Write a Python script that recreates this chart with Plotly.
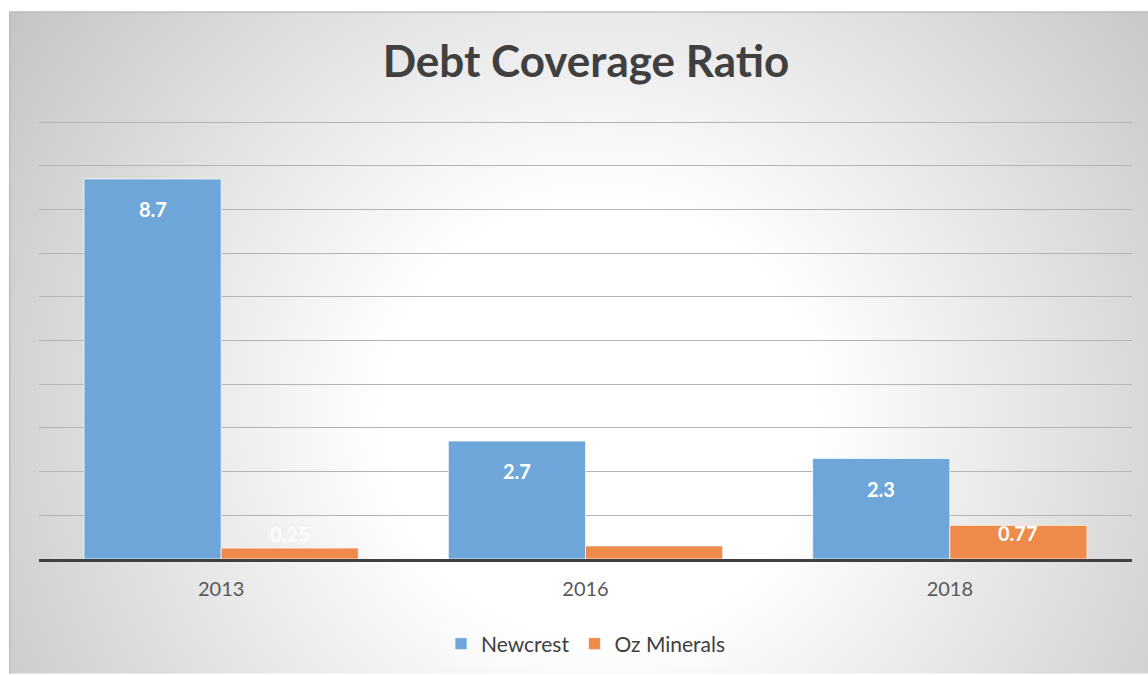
import base64
import plotly.graph_objects as go

categories = ["2013", "2016", "2018"]
newcrest = [8.7, 2.7, 2.3]
oz_minerals = [0.25, 0.3, 0.77]
newcrest_labels = ["8.7", "2.7", "2.3"]
oz_labels = ["0.25", "", "0.77"]

W, H = 1148, 675
ML, MR, MT, MB = 39, 16, 120, 115
YMAX = 10.05
BARGAP = 0.247
FONT = "Lato"

svg = '''<svg xmlns="http://www.w3.org/2000/svg" width="1139" height="664" viewBox="0 0 1139 664">
<defs><radialGradient id="g" gradientUnits="userSpaceOnUse" cx="591" cy="409" r="720">
<stop offset="0" stop-color="#ffffff"/><stop offset="0.3" stop-color="#ffffff"/>
<stop offset="1" stop-color="#c4c4c4"/></radialGradient></defs>
<rect x="0" y="0" width="1139" height="664" fill="url(#g)"/>
<path d="M0.75,664 V0.75 H1139" fill="none" stroke="#bcbcbc" stroke-width="1.5"/>
</svg>'''
src = "data:image/svg+xml;base64," + base64.b64encode(svg.encode()).decode()

pw, ph = W - ML - MR, H - MT - MB

fig = go.Figure()
fig.add_trace(go.Bar(name="Newcrest", x=categories, y=newcrest,
                     marker=dict(color="#6fa6d9", line=dict(color="rgba(255,255,255,0.7)", width=1))))
fig.add_trace(go.Bar(name="Oz Minerals", x=categories, y=oz_minerals,
                     marker=dict(color="#ee8b4b", line=dict(color="rgba(255,255,255,0.7)", width=1))))

off = (1 - BARGAP) / 4
unit_px = ph / YMAX
for series, labels, sign in ((newcrest, newcrest_labels, -1), (oz_minerals, oz_labels, 1)):
    for i, (v, lab) in enumerate(zip(series, labels)):
        if not lab:
            continue
        hpx = v * unit_px
        if hpx > 60:
            ys, col = -30, "white"
        elif hpx > 25:
            ys, col = -8, "white"
        else:
            ys, col = 14, "rgba(255,255,255,0.85)"
        fig.add_annotation(x=i + sign * off, y=v, text=f"<b>{lab}</b>", showarrow=False,
                           yshift=ys, xref="x", yref="y",
                           font=dict(family=FONT, size=20, color=col))

fig.add_layout_image(dict(source=src, xref="paper", yref="paper",
                          x=(9 - ML) / pw, y=(H - MB - 11) / ph,
                          sizex=1139 / pw, sizey=664 / ph,
                          xanchor="left", yanchor="top", sizing="stretch", layer="below"))

fig.update_layout(
    width=W, height=H,
    margin=dict(l=ML, r=MR, t=MT, b=MB),
    paper_bgcolor="white", plot_bgcolor="rgba(0,0,0,0)",
    barmode="group", bargap=BARGAP, bargroupgap=0,
    title=dict(text="<b>Debt Coverage Ratio</b>", x=586 / W, xanchor="center",
               y=1 - 62 / H, yanchor="middle",
               font=dict(family=FONT, size=44, color="#404040")),
    font=dict(family=FONT, color="#595959"),
    xaxis=dict(showline=True, linecolor="#404040", linewidth=3,
               tickfont=dict(size=20, color="#595959"), ticks="", showgrid=False,
               ticklabelstandoff=10),
    yaxis=dict(range=[0, YMAX], dtick=1, showticklabels=False, showgrid=True,
               gridcolor="#b4b4b4", gridwidth=1, zeroline=False, showline=False),
    legend=dict(orientation="h", x=(586 - ML) / pw, xanchor="center",
                y=-(644 - (H - MB)) / ph, yanchor="middle",
                font=dict(family=FONT, size=21, color="#404040"),
                bgcolor="rgba(255,255,255,0.2)", itemwidth=30),
    showlegend=True,
)

fig.write_html("out.html")
